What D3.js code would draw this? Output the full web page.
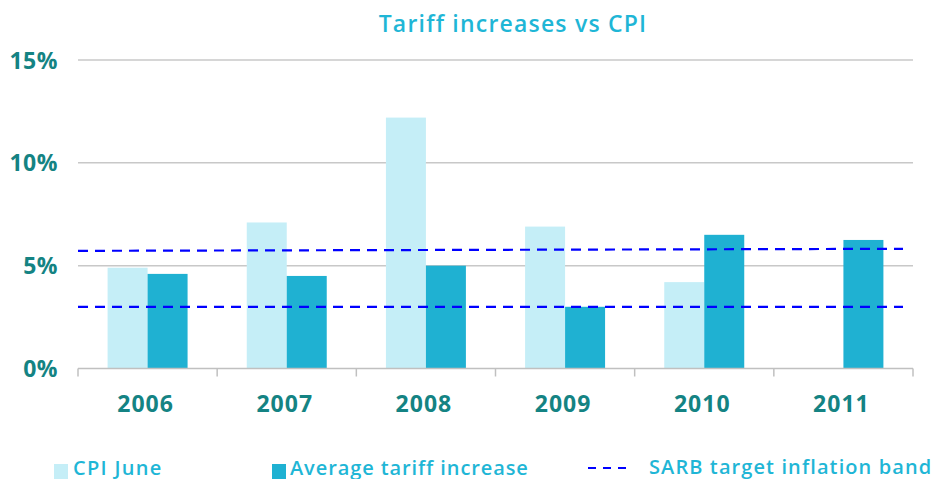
<!DOCTYPE html>
<html><head><meta charset="utf-8">
<script src="https://cdn.jsdelivr.net/npm/d3@7"></script>
<style>body{margin:0;background:#fff}svg{display:block}text{font-family:"Open Sans",sans-serif}</style>
</head><body><svg id="c" width="931" height="479"></svg>
<script>
const categories = ["2006","2007","2008","2009","2010","2011"];
const cpiJune = [4.9, 7.1, 12.2, 6.9, 4.2, null];
const tariffIncrease = [4.6, 4.5, 5.0, 3.0, 6.5, 6.25];
const sarbLower = [3.0, 3.0];
const sarbUpper = [5.72, 5.82];
const yTicks = [0, 5, 10, 15];
const seriesNames = ["CPI June", "Average tariff increase", "SARB target inflation band"];

const svg = d3.select("#c");
const m = {l:78, r:18, t:60, b:110};
const W = 931, H = 479;
const x = d3.scaleBand().domain(categories).range([m.l, W - m.r]).paddingInner(0).paddingOuter(0);
const y = d3.scaleLinear().domain([0, 15]).range([368.5, 60]);
const sub = d3.scaleBand().domain([0,1]).range([0, x.bandwidth()]).paddingOuter(0.74).paddingInner(0);

const teal = "#148383", light = "#c5eef7", dark = "#1fb1d2", txt = "#1fb6d6";

// gridlines
svg.append("g").selectAll("line").data(yTicks.filter(d=>d>0)).join("line")
  .attr("x1", m.l).attr("x2", W - m.r).attr("y1", d=>y(d)).attr("y2", d=>y(d))
  .attr("stroke", "#c8c8c8").attr("stroke-width", 1.5);

// bars
const g = svg.append("g");
g.selectAll("rect.cpi").data(categories.map((c,i)=>({c, v:cpiJune[i]})).filter(d=>d.v!=null)).join("rect")
  .attr("x", d=>x(d.c)+sub(0)).attr("width", sub.bandwidth())
  .attr("y", d=>y(d.v)).attr("height", d=>y(0)-y(d.v)).attr("fill", light);
g.selectAll("rect.tar").data(categories.map((c,i)=>({c, v:tariffIncrease[i]}))).join("rect")
  .attr("x", d=>x(d.c)+sub(1)).attr("width", sub.bandwidth())
  .attr("y", d=>y(d.v)).attr("height", d=>y(0)-y(d.v)).attr("fill", dark);

// x axis
const xa = svg.append("g").attr("transform", `translate(0,${y(0)})`);
xa.append("line").attr("x1", m.l).attr("x2", W - m.r).attr("stroke", "#c0c0c0").attr("stroke-width", 1.5);
xa.selectAll("line.t").data(categories.map(c=>x(c)).concat([W - m.r])).join("line")
  .attr("x1", d=>d).attr("x2", d=>d).attr("y1", 0).attr("y2", 8).attr("stroke", "#c0c0c0").attr("stroke-width", 1.5);
svg.append("g").selectAll("text").data(categories).join("text")
  .attr("x", d=>x(d)+x.bandwidth()/2 - 2).attr("y", 412)
  .attr("text-anchor", "middle").attr("fill", teal).attr("font-size", 23).attr("font-weight", 700)
  .attr("letter-spacing", 1)
  .text(d=>d);

// y labels
svg.append("g").selectAll("text").data(yTicks).join("text")
  .attr("x", 58).attr("y", d=>y(d)+8.5).attr("text-anchor", "end")
  .attr("fill", teal).attr("font-size", 23).attr("font-weight", 700).attr("letter-spacing", 0.5)
  .text(d=>d + "%");

// SARB band
const xl = d3.scaleLinear().domain([0,1]).range([m.l, 903]);
[sarbLower, sarbUpper].forEach(arr=>{
  svg.append("line").attr("x1", xl(0)).attr("x2", xl(1)).attr("y1", y(arr[0])).attr("y2", y(arr[1]))
    .attr("stroke", "#0000ff").attr("stroke-width", 2.2).attr("stroke-dasharray", "10,7");
});

// title
svg.append("text").attr("x", 513).attr("y", 32).attr("text-anchor", "middle")
  .attr("fill", txt).attr("font-size", 23).attr("font-weight", 600).attr("letter-spacing", 1.2)
  .text("Tariff increases vs CPI");

// legend
const lg = svg.append("g");
lg.append("rect").attr("x", 54).attr("y", 464).attr("width", 14).attr("height", 15).attr("fill", light);
lg.append("text").attr("x", 73).attr("y", 475).attr("fill", txt).attr("font-size", 20).attr("font-weight", 600).attr("letter-spacing", 1.3).text(seriesNames[0]);
lg.append("rect").attr("x", 272).attr("y", 464).attr("width", 14).attr("height", 15).attr("fill", dark);
lg.append("text").attr("x", 290).attr("y", 475).attr("fill", txt).attr("font-size", 20).attr("font-weight", 600).attr("letter-spacing", 0.9).text(seriesNames[1]);
lg.append("line").attr("x1", 588).attr("x2", 630).attr("y1", 468).attr("y2", 468)
  .attr("stroke", "#0000ff").attr("stroke-width", 2.2).attr("stroke-dasharray", "8,7");
lg.append("text").attr("x", 649).attr("y", 474).attr("fill", txt).attr("font-size", 20).attr("font-weight", 600).attr("letter-spacing", 1.1).text(seriesNames[2]);
</script></body></html>
